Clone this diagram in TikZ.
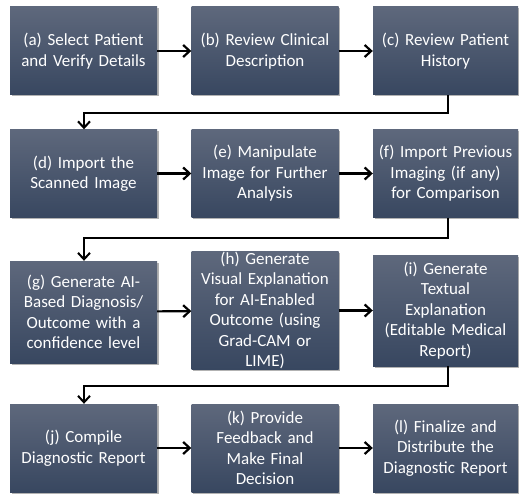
\documentclass[tikz,border=0pt]{standalone}
\usepackage{fontspec}
\setmainfont{Carlito}
\usetikzlibrary{arrows.meta,shadows}
\definecolor{boxtop}{RGB}{94,104,124}
\definecolor{boxbot}{RGB}{56,71,96}
\tikzset{
  stepbox/.style={rectangle, draw=none, top color=boxtop, bottom color=boxbot,
    minimum width=147pt, minimum height=88pt, text width=144pt, align=center,
    text=white, font=\fontsize{17}{20.5}\selectfont, inner sep=0pt,
    drop shadow={shadow xshift=1.5pt, shadow yshift=-1.5pt, fill=black, opacity=0.3}},
  harrow/.style={-{Straight Barb[length=6.5pt,width=12pt,line width=2.2pt]}, line width=2.2pt, black},
  varrow/.style={-{Straight Barb[length=6.5pt,width=12pt,line width=2pt]}, line width=1.8pt, black}
}
\begin{document}
\begin{tikzpicture}[x=1pt,y=-1pt]
\useasboundingbox (0,0) rectangle (519,497);
\fill[white] (0,0) rectangle (519,497);
% row 1
\node[stepbox] (a) at (83.5,51) {(a) Select Patient\\and Verify Details};
\node[stepbox] (b) at (265,51) {(b) Review Clinical\\Description};
\node[stepbox, minimum width=145pt] (c) at (445.5,51) {(c) Review Patient\\History};
% row 2
\node[stepbox] (d) at (83.5,173.5) {(d) Import the\\Scanned Image};
\node[stepbox] (e) at (265,173.5) {(e) Manipulate\\Image for Further\\Analysis};
\node[stepbox, minimum width=145pt] (f) at (445.5,173.5) {(f) Import Previous\\Imaging (if any)\\for Comparison};
% row 3
\node[stepbox, minimum height=102pt] (g) at (83.5,312) {(g) Generate AI-\\Based Diagnosis/\\Outcome with a\\confidence level};
\node[stepbox, minimum height=115pt] (h) at (265,310.5) {(h) Generate\\Visual Explanation\\for AI-Enabled\\Outcome (using\\Grad-CAM or\\LIME)};
\node[stepbox, minimum width=145pt, minimum height=111pt] (i) at (445.5,310.5) {(i) Generate\\Textual\\Explanation\\(Editable Medical\\Report)};
% row 4
\node[stepbox] (j) at (83.5,448) {(j) Compile\\Diagnostic Report};
\node[stepbox] (k) at (265,448) {(k) Provide\\Feedback and\\Make Final\\Decision};
\node[stepbox, minimum width=145pt] (l) at (445.5,448) {(l) Finalize and\\Distribute the\\Diagnostic Report};
% horizontal arrows
\draw[harrow] (a) -- (b);
\draw[harrow] (b) -- (c);
\draw[harrow] (d) -- (e);
\draw[harrow] (e) -- (f);
\draw[harrow] (g) -- (h);
\draw[harrow] (h) -- (i);
\draw[harrow] (j) -- (k);
\draw[harrow] (k) -- (l);
% row connectors
\draw[varrow] ([xshift=2.5pt]c.south) -- ++(0,18) -| (d.north -| 84,0);
\draw[varrow] ([xshift=2.5pt]f.south) -- ++(0,20) -| (g.north -| 84,0);
\draw[varrow] ([xshift=2.5pt]i.south) -- ++(0,20) -| (j.north -| 84,0);
\end{tikzpicture}
\end{document}
